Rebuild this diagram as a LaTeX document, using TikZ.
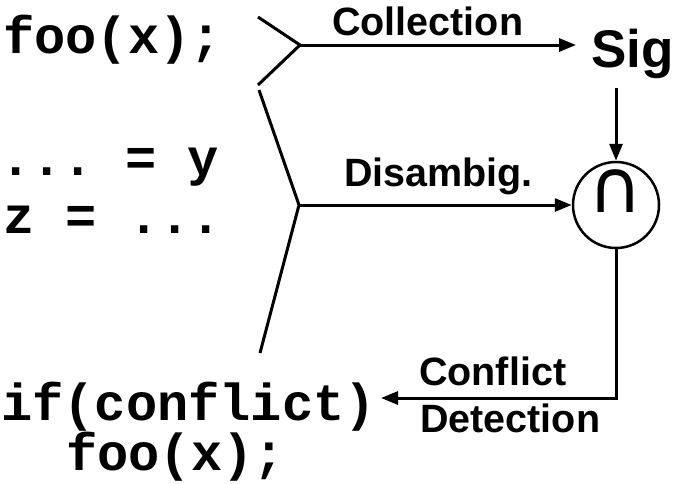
\documentclass[tikz,border=0pt]{standalone}
\usepackage{fontspec}
\setmainfont{Liberation Sans}
\setmonofont{Liberation Mono}
\newfontfamily\symfont{DejaVu Sans}
\usetikzlibrary{arrows.meta}

\begin{document}
\begin{tikzpicture}[x=1pt,y=-1pt,
  code/.style={anchor=base west,inner sep=0pt,font=\ttfamily\bfseries\fontsize{52}{52}\selectfont},
  lbl/.style={anchor=base west,inner sep=0pt,font=\bfseries\fontsize{39.5}{39.5}\selectfont},
  wire/.style={line width=3pt},
  flow/.style={line width=3pt,-{Triangle[length=17pt,width=13pt]}},
]
\useasboundingbox (0,0) rectangle (676,483);

% source code fragments
\node[code] (foo)  at (3,53)   {foo(x);};
\node[code] (use)  at (0,175)  {...\ =\ y};
\node[code] (def)  at (3,233)  {z\ =\ ...};
\node[code] (ifc)  at (1,420)  {if(conflict)};
\node[code] (body) at (66,470) {foo(x);};

% signature and intersection
\node[anchor=base west,inner sep=0pt,font=\bfseries\fontsize{53}{53}\selectfont] (sig) at (591,67) {Sig};
\node[draw,circle,line width=2.5pt,minimum size=86pt,inner sep=0pt] (cap) at (616,205) {};
\node[anchor=base,inner sep=0pt,font=\symfont\fontsize{74}{74}\selectfont] (capsym) at (616,212) {∩};

% fork points
\coordinate (f1)  at (300,45);
\coordinate (f1a) at (258,17);
\coordinate (f1b) at (258,85);
\coordinate (f2)  at (299,205);
\coordinate (f2a) at (259,90);
\coordinate (f2b) at (260,353);
\coordinate (sigdrop) at (616,88);
\coordinate (cdtip) at (381,398);

\draw[wire] (f1a) -- (f1) -- (f1b);
\draw[wire] (f2a) -- (f2) -- (f2b);

% connectors
\draw[flow,shorten >=15pt] (f1) -- (f1 -| sig.west);
\draw[flow] (f2) -- (cap.west);
\draw[flow] (sigdrop) -- (cap.north);
\draw[flow] (cap.south) |- (cdtip);

% labels
\node[lbl] (lcol) at (332,35)  {Collection};
\node[lbl] (ldis) at (344,186) {Disambig.};
\node[lbl] (lcon) at (419,385) {Conflict};
\node[lbl] (ldet) at (420,432) {Detection};
\end{tikzpicture}
\end{document}
